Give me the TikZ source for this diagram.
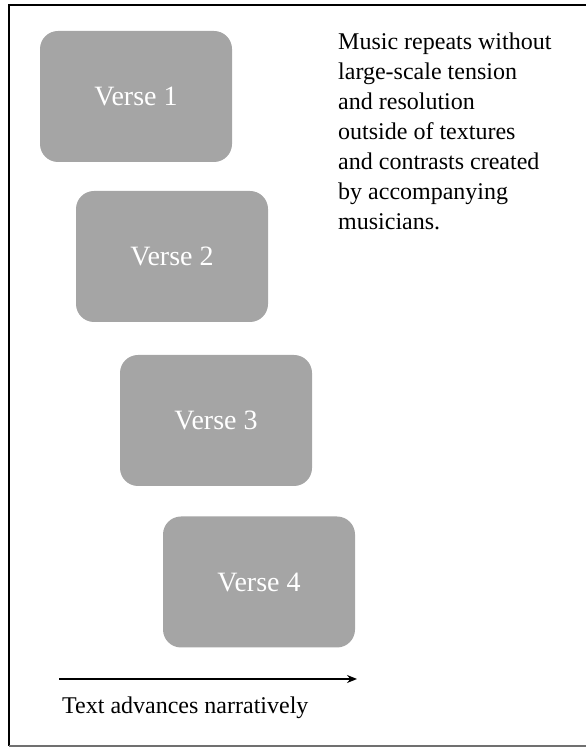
\documentclass[tikz,border=0pt]{standalone}
\usepackage{fontspec}
\setmainfont{Liberation Serif}
\usetikzlibrary{arrows.meta}
\definecolor{versegray}{HTML}{A5A5A5}
\definecolor{framegray}{HTML}{707070}
\begin{document}
\begin{tikzpicture}[
    x=1pt, y=1pt,
    verse/.style={
        fill=versegray,
        rounded corners=18pt,
        minimum width=192pt,
        minimum height=131pt,
        inner sep=0pt,
        text=white,
        font=\fontsize{28}{34}\selectfont
    },
    note/.style={
        align=left,
        inner sep=0pt,
        font=\fontsize{24}{30}\selectfont
    },
    arrow/.style={-{Stealth[length=10pt,width=8pt]}, line width=1.5pt}
]
\useasboundingbox (0,0) rectangle (586,747);

% ---------------------------------------------------------------------------
% Frame
% ---------------------------------------------------------------------------
\draw[line width=2pt] (586,742) -- (9,742) -- (9,1);
\draw[line width=2pt, framegray] (9,1) -- (586,1);

% ---------------------------------------------------------------------------
% Verses
% ---------------------------------------------------------------------------
\node[verse] (verse1) at (136,650.5) {Verse 1};
\node[verse] (verse2) at (172,490.5) {Verse 2};
\node[verse] (verse3) at (216,326.5) {Verse 3};
\node[verse] (verse4) at (259,165) {Verse 4};

% ---------------------------------------------------------------------------
% Comment on the music
% ---------------------------------------------------------------------------
\node[note, anchor=north west] (music) at (338,714)
    {Music repeats without\\
    large-scale tension\\
    and resolution\\
    outside of textures\\
    and contrasts created\\
    by accompanying\\
    musicians.};

% ---------------------------------------------------------------------------
% Text axis
% ---------------------------------------------------------------------------
\coordinate (axisstart) at (59,68);
\coordinate (axisend) at (357,68);
\draw[arrow] (axisstart) -- (axisend);
\node[note, anchor=base west] (axis) at (62,34) {Text advances narratively};

\end{tikzpicture}
\end{document}
